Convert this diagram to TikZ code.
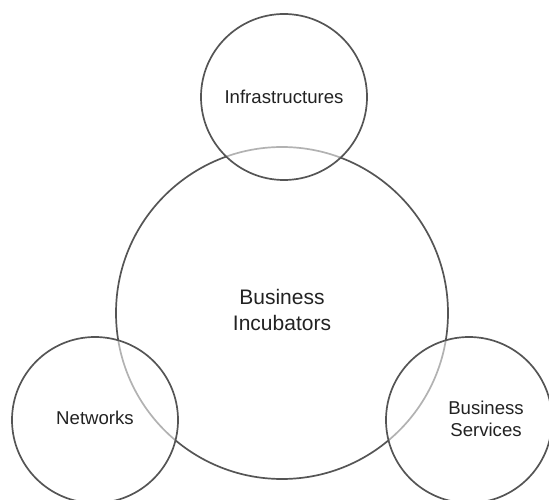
\documentclass[tikz,border=0pt]{standalone}
\usepackage{fontspec}
\setmainfont{Liberation Sans}
\begin{document}
\begin{tikzpicture}[x=1pt,y=-1pt,
  ring/.style={circle,draw=ringgray,line width=1.7pt,inner sep=0pt,text=textgray,align=center},
  bigring/.style={ring,minimum size=332pt,font=\fontsize{21}{26}\selectfont},
  smallring/.style={ring,minimum size=166pt,fill=white,fill opacity=0.55,text opacity=1,font=\fontsize{18.6}{22}\selectfont}]
\definecolor{ringgray}{HTML}{555555}
\definecolor{textgray}{HTML}{222222}
\useasboundingbox (0,0) rectangle (549,500);
\clip (0,0) rectangle (549,500);
\node[bigring] (inc) at (282,313) {};
\node[smallring] (infra) at (284,97) {};
\node[smallring] (net) at (95,420) {};
\node[smallring] (serv) at (469,420) {};
\node[text=textgray,align=center,font=\fontsize{21}{26}\selectfont] (inclabel) at (282,310) {Business\\Incubators};
\node[text=textgray,font=\fontsize{18.6}{22}\selectfont] (infralabel) at (284,97) {Infrastructures};
\node[text=textgray,font=\fontsize{18.6}{22}\selectfont] (netlabel) at (95,418) {Networks};
\node[text=textgray,align=center,font=\fontsize{18.6}{22}\selectfont] (servlabel) at (486,419) {Business\\Services};
\end{tikzpicture}
\end{document}
